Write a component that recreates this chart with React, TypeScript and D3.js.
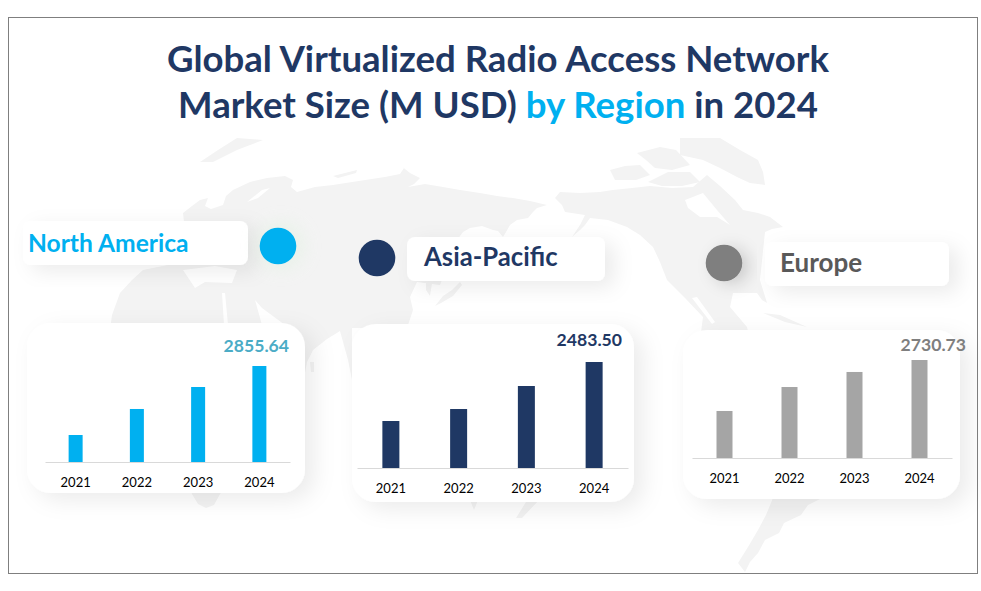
import React, { useEffect, useRef } from 'react';
import * as d3 from 'd3';

const years = ['2021', '2022', '2023', '2024'];
const northAmerica = [803, 1577, 2231, 2855.64];
const asiaPacific = [1101, 1382, 1921, 2483.5];
const europe = [1310, 1978, 2397, 2730.73];

// background map, traced roughly in page pixels
const mapLand: [number, number][][] = [
  // eurasia + africa
  [[110, 330], [112, 315], [120, 293], [132, 280], [143, 270], [183, 262], [186, 240], [183, 213], [192, 206], [200, 200], [208, 198], [205, 206], [211, 209], [223, 205], [226, 196], [233, 190], [250, 182], [267, 178], [285, 176], [293, 180], [291, 187], [297, 192], [315, 187], [333, 185], [365, 180], [385, 177], [400, 174], [404, 168], [400, 165], [410, 173], [420, 178], [414, 184], [408, 187], [425, 184], [443, 187], [460, 190], [480, 193], [497, 196], [513, 198], [530, 201], [547, 205], [537, 208], [533, 212], [528, 218], [517, 220], [510, 225], [506, 232], [503, 237], [498, 231], [493, 230], [482, 226], [470, 228], [463, 232], [457, 240], [440, 285], [417, 282], [410, 297], [413, 310], [407, 328], [352, 328], [352, 380], [348, 360], [340, 331], [327, 339], [313, 350], [307, 362], [300, 400], [220, 494], [214, 505], [206, 508], [198, 504], [192, 494], [150, 400]],
  // north america
  [[555, 198], [560, 192], [580, 193], [600, 192], [613, 190], [632, 188], [650, 186], [672, 188], [693, 187], [707, 175], [720, 186], [735, 200], [743, 210], [758, 213], [770, 217], [783, 227], [772, 229], [765, 232], [760, 280], [767, 303], [762, 300], [757, 293], [733, 293], [730, 307], [747, 327], [750, 340], [700, 340], [703, 317], [685, 298], [667, 280], [660, 262], [653, 247], [640, 235], [627, 227], [608, 220], [590, 218], [585, 225], [580, 230], [572, 237], [580, 225], [585, 215], [565, 212], [562, 205]],
  // greenland
  [[680, 138], [720, 138], [740, 150], [758, 160], [763, 172], [765, 185], [750, 183], [737, 177], [720, 168], [703, 160], [680, 155]],
  // arctic islands
  [[610, 170], [625, 166], [640, 165], [650, 175], [636, 180], [615, 180]],
  [[637, 153], [660, 147], [676, 150], [690, 165], [672, 170], [655, 168], [646, 160]],
  [[648, 182], [668, 172], [690, 172], [700, 182], [682, 186], [662, 186]],
  // south america
  [[773, 498], [766, 515], [758, 530], [748, 547], [738, 563], [745, 572], [750, 562], [758, 553], [765, 540], [779, 533], [784, 523], [801, 515], [808, 505], [822, 498]],
  // svalbard and novaya zemlya
  [[200, 162], [218, 150], [237, 138], [263, 140], [237, 150], [213, 162]],
  [[333, 176], [357, 170], [356, 173], [338, 178]],
  // korea and japan
  [[426, 283], [432, 283], [430, 296], [426, 290]],
  [[435, 306], [443, 296], [452, 290], [460, 282], [462, 285], [453, 296], [441, 303]],
  // sri lanka, tasmania, new zealand, cuba
  [[310, 362], [314, 362], [314, 372], [311, 372]],
  [[470, 500], [478, 500], [474, 510]],
  [[516, 518], [526, 502], [539, 500], [522, 518]],
  [[763, 313], [780, 315], [807, 327], [785, 322]],
];
const mapSeas: [number, number][][] = [
  [[247, 202], [262, 190], [270, 188], [258, 198]],
  [[183, 270], [215, 266], [237, 270], [232, 283], [205, 282], [195, 288]],
  [[222, 293], [225, 293], [228, 325], [224, 325]],
  [[255, 300], [262, 308], [285, 325], [262, 325]],
  [[697, 297], [715, 322], [712, 324], [692, 298]],
  // hudson bay
  [[685, 200], [703, 193], [717, 210], [730, 225], [717, 217], [700, 217], [688, 208]],
];

const panels = [
  { name: 'North America', values: northAmerica, color: '#00b0f0', valueColor: '#4bacc6', nameColor: '#00b0f0', nameSize: 24.6,
    card: [27, 323, 278, 170], axis: [45, 290], base: 462, top: 366, barW: 14, valueX: 289, valueY: 352,
    pill: [23, 221, 225, 44], nameX: 28, nameY: 252, dot: [278, 246], dotColor: '#00b0f0' },
  { name: 'Asia-Pacific', values: asiaPacific, color: '#1f3864', valueColor: '#1f3864', nameColor: '#1f3864', nameSize: 25.7,
    card: [352, 324, 282, 178], axis: [357, 628], base: 468, top: 362, barW: 17, valueX: 622, valueY: 346,
    pill: [407, 237, 198, 44], nameX: 424, nameY: 266, dot: [377, 258], dotColor: '#1f3864' },
  { name: 'Europe', values: europe, color: '#a5a5a5', valueColor: '#7f7f7f', nameColor: '#595959', nameSize: 26,
    card: [683, 330, 277, 169], axis: [692, 952], base: 458, top: 360, barW: 16, valueX: 966, valueY: 351,
    pill: [765, 242, 184, 44], nameX: 780, nameY: 272, dot: [724, 263], dotColor: '#7f7f7f' },
];

const fontFamily = 'Lato, sans-serif';

const App: React.FC = () => {
  const chartRef = useRef<SVGSVGElement | null>(null);

  useEffect(() => {
    const svg = d3.select(chartRef.current);
    svg.selectAll('*').remove();

    const defs = svg.append('defs');
    const shadow = (id: string, dx: number, dy: number, blur: number, opacity: number) => {
      defs.append('filter')
        .attr('id', id)
        .attr('x', '-30%').attr('y', '-50%').attr('width', '170%').attr('height', '200%')
        .append('feDropShadow')
        .attr('dx', dx).attr('dy', dy).attr('stdDeviation', blur)
        .attr('flood-color', '#000').attr('flood-opacity', opacity);
    };
    shadow('cardShadow', 9, 7, 11, 0.08);
    shadow('pillShadow', 9, 6, 10, 0.08);
    shadow('dotShadow', 7, 3, 8, 0.16);
    defs.append('filter').attr('id', 'glow')
      .attr('x', '-60%').attr('y', '-60%').attr('width', '220%').attr('height', '220%')
      .append('feGaussianBlur').attr('stdDeviation', 8);

    svg.append('rect')
      .attr('x', 8.5).attr('y', 17.5).attr('width', 969).attr('height', 556)
      .attr('fill', '#fff').attr('stroke', '#7f7f7f');

    const outline = d3.line().curve(d3.curveLinearClosed);
    svg.append('g').selectAll('path').data(mapLand).join('path')
      .attr('d', d => outline(d))
      .attr('fill', '#f3f3f3');
    svg.append('g').selectAll('path').data(mapSeas).join('path')
      .attr('d', d => outline(d))
      .attr('fill', '#fff');

    const title = svg.append('text')
      .attr('font-family', fontFamily).attr('font-weight', 700).attr('font-size', 36.6)
      .attr('text-anchor', 'middle').attr('fill', '#1f3864');
    title.append('tspan').attr('x', 498).attr('y', 72).text('Global Virtualized Radio Access Network');
    title.append('tspan').attr('x', 498).attr('y', 118).text('Market Size (M USD) ');
    title.append('tspan').attr('fill', '#00b0f0').text('by Region');
    title.append('tspan').text(' in 2024');

    panels.forEach(p => {
      const g = svg.append('g');
      const [cx, cy, cw, ch] = p.card;
      g.append('rect')
        .attr('x', cx).attr('y', cy).attr('width', cw).attr('height', ch).attr('rx', 24)
        .attr('fill', '#fff').attr('filter', 'url(#cardShadow)');

      const [px, py, pw, ph] = p.pill;
      g.append('rect')
        .attr('x', px).attr('y', py).attr('width', pw).attr('height', ph).attr('rx', 8)
        .attr('fill', '#fff').attr('filter', 'url(#pillShadow)');
      g.append('text')
        .attr('x', p.nameX).attr('y', p.nameY)
        .attr('font-family', fontFamily).attr('font-weight', 700).attr('font-size', p.nameSize)
        .attr('fill', p.nameColor).text(p.name);

      if (p.name === 'North America') {
        g.append('circle')
          .attr('cx', p.dot[0] + 3).attr('cy', p.dot[1]).attr('r', 24)
          .attr('fill', '#e6f2e6').attr('opacity', 0.7).attr('filter', 'url(#glow)');
      }
      g.append('circle')
        .attr('cx', p.dot[0]).attr('cy', p.dot[1]).attr('r', 18.3)
        .attr('fill', p.dotColor)
        .attr('filter', p.name === 'Europe' ? 'url(#dotShadow)' : null);

      const band = 1 - p.barW / ((p.axis[1] - p.axis[0]) / years.length);
      const x = d3.scaleBand()
        .domain(years)
        .range(p.axis as [number, number])
        .paddingInner(band)
        .paddingOuter(band / 2);
      const y = d3.scaleLinear()
        .domain([0, d3.max(p.values) as number])
        .range([p.base, p.top]);

      g.append('g').selectAll('rect').data(p.values).join('rect')
        .attr('x', (_, i) => x(years[i]) as number)
        .attr('y', d => y(d))
        .attr('width', x.bandwidth())
        .attr('height', d => p.base - y(d))
        .attr('fill', p.color);

      const axis = g.append('g')
        .attr('transform', `translate(0,${p.base})`)
        .call(d3.axisBottom(x).tickSize(0).tickPadding(16));
      axis.select('.domain').attr('stroke', '#d9d9d9').attr('stroke-width', 1);
      axis.selectAll('.tick text')
        .attr('font-family', fontFamily).attr('font-size', 13).attr('fill', '#000');

      g.append('text')
        .attr('x', p.valueX).attr('y', p.valueY).attr('text-anchor', 'end')
        .attr('font-family', fontFamily).attr('font-weight', 700).attr('font-size', 17.6)
        .attr('fill', p.valueColor)
        .text(d3.format('.2f')(p.values[p.values.length - 1]));
    });
  }, []);

  return (
    <svg ref={chartRef} width={981} height={591} style={{ position: 'absolute', left: 0, top: 0, display: 'block' }}></svg>
  );
};

export default App;
